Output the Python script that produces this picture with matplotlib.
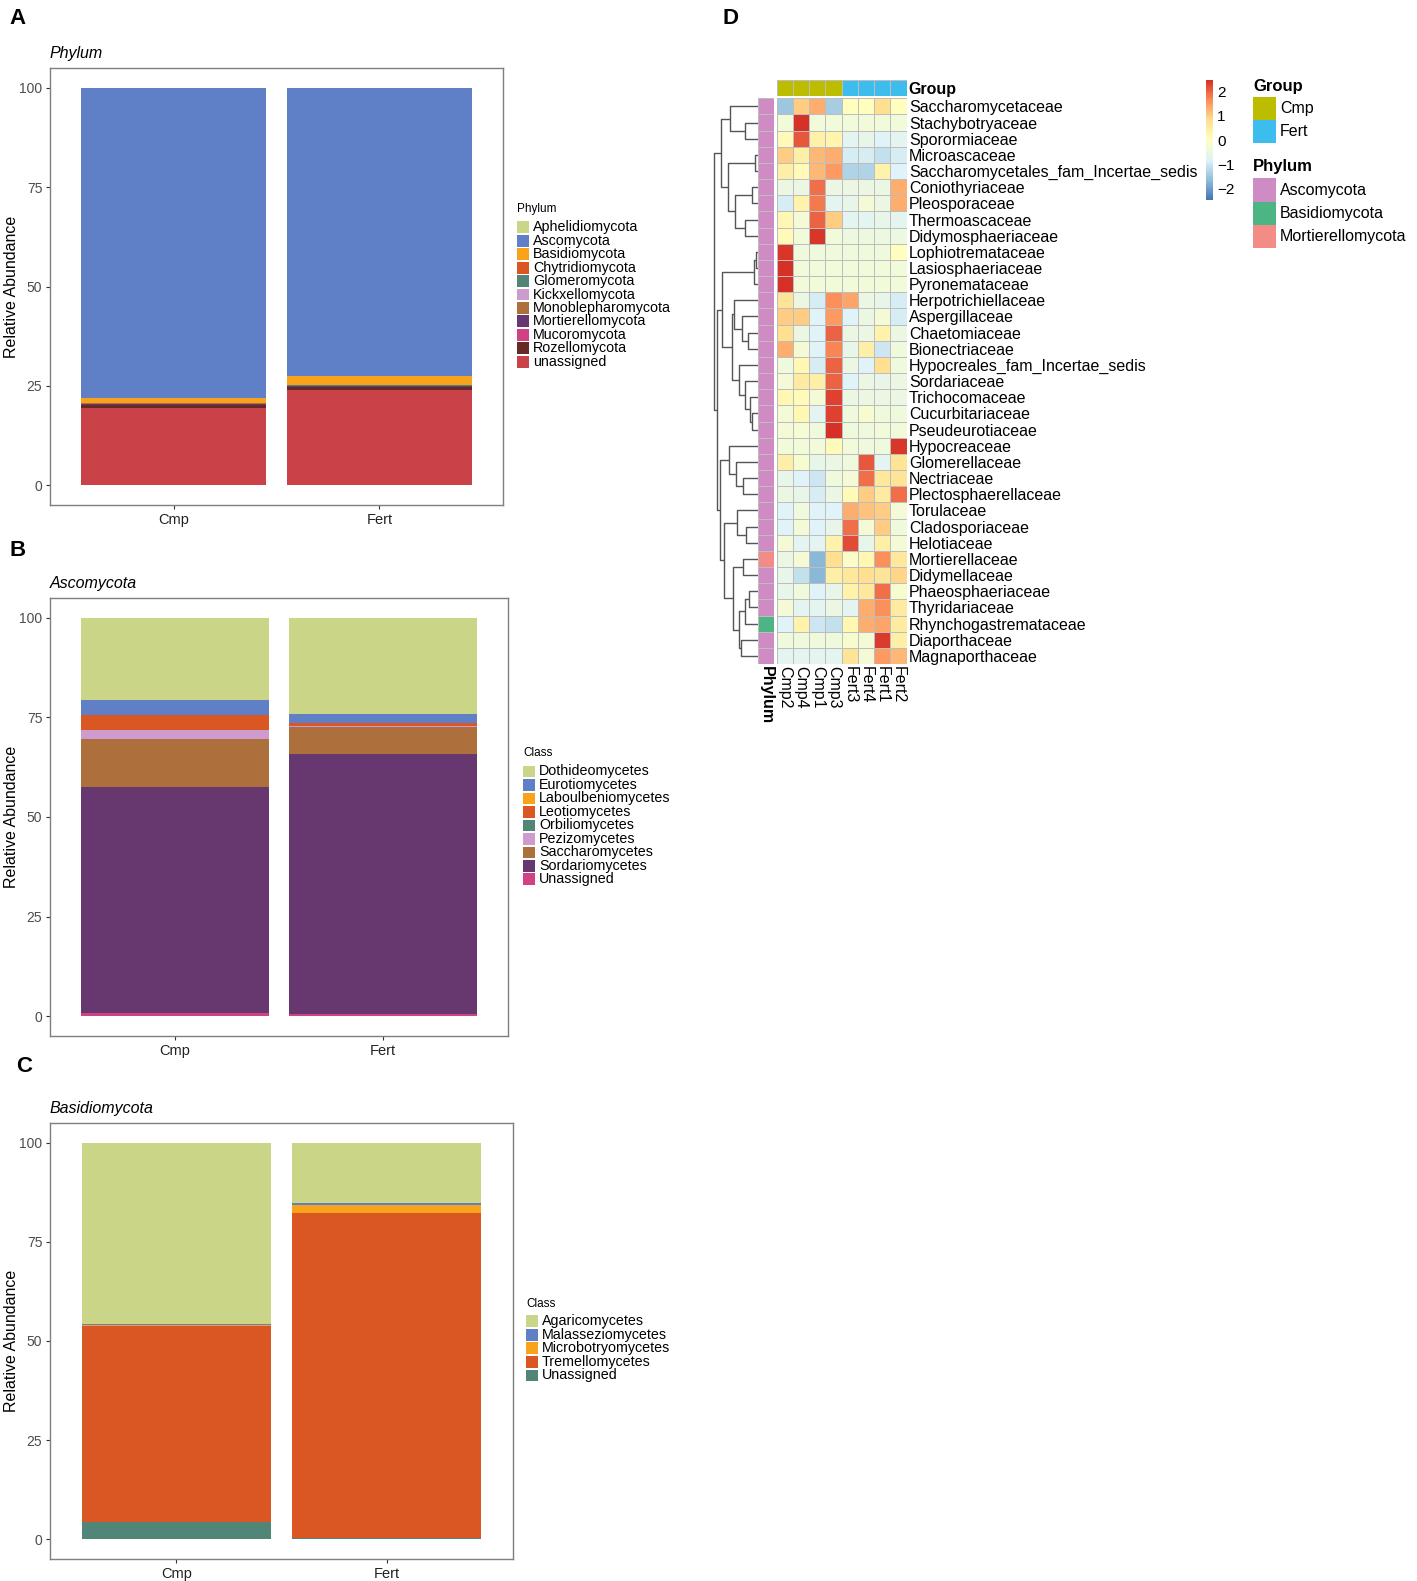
import numpy as np
import matplotlib
matplotlib.use("Agg")
import matplotlib.pyplot as plt
from matplotlib.colors import LinearSegmentedColormap, ListedColormap

plt.rcParams['font.family'] = ['Liberation Sans', 'DejaVu Sans']

W, H = 1417, 1581

# ---- data: stacked bars ----
samples = ['Cmp', 'Fert']

phylum_names = ['Aphelidiomycota', 'Ascomycota', 'Basidiomycota', 'Chytridiomycota',
                'Glomeromycota', 'Kickxellomycota', 'Monoblepharomycota',
                'Mortierellomycota', 'Mucoromycota', 'Rozellomycota', 'unassigned']
phylum_cmp = [0.02, 78.0, 1.3, 0.05, 0.05, 0.02, 0.02, 0.4, 0.05, 0.7, 19.39]
phylum_fert = [0.02, 72.6, 2.2, 0.05, 0.05, 0.02, 0.02, 0.4, 0.05, 0.6, 23.99]

asco_names = ['Dothideomycetes', 'Eurotiomycetes', 'Laboulbeniomycetes', 'Leotiomycetes',
              'Orbiliomycetes', 'Pezizomycetes', 'Saccharomycetes', 'Sordariomycetes',
              'Unassigned']
asco_cmp = [20.6, 3.8, 0.1, 3.7, 0.05, 2.1, 12.1, 56.65, 0.9]
asco_fert = [24.1, 2.3, 0.05, 0.6, 0.05, 0.4, 6.6, 65.3, 0.6]

basi_names = ['Agaricomycetes', 'Malasseziomycetes', 'Microbotryomycetes',
              'Tremellomycetes', 'Unassigned']
basi_cmp = [45.8, 0.1, 0.3, 49.4, 4.4]
basi_fert = [15.3, 0.3, 2.2, 81.9, 0.3]

palette = ['#CBD588', '#5F7FC7', '#F8A31B', '#DA5724', '#508578', '#CD9BCD',
           '#AD6F3B', '#673770', '#D14285', '#652926', '#C84248']

# ---- data: heatmap (row z-scores) ----
heat_cols = ['Cmp2', 'Cmp4', 'Cmp1', 'Cmp3', 'Fert3', 'Fert4', 'Fert1', 'Fert2']
heat_rows = ['Saccharomycetaceae', 'Stachybotryaceae', 'Sporormiaceae', 'Microascaceae',
             'Saccharomycetales_fam_Incertae_sedis', 'Coniothyriaceae', 'Pleosporaceae',
             'Thermoascaceae', 'Didymosphaeriaceae', 'Lophiotremataceae', 'Lasiosphaeriaceae',
             'Pyronemataceae', 'Herpotrichiellaceae', 'Aspergillaceae', 'Chaetomiaceae',
             'Bionectriaceae', 'Hypocreales_fam_Incertae_sedis', 'Sordariaceae',
             'Trichocomaceae', 'Cucurbitariaceae', 'Pseudeurotiaceae', 'Hypocreaceae',
             'Glomerellaceae', 'Nectriaceae', 'Plectosphaerellaceae', 'Torulaceae',
             'Cladosporiaceae', 'Helotiaceae', 'Mortierellaceae', 'Didymellaceae',
             'Phaeosphaeriaceae', 'Thyridariaceae', 'Rhynchogastremataceae',
             'Diaporthaceae', 'Magnaporthaceae']
heat_vals = [
    [-1.5, 1.0, 1.3, -1.4, 0.0, 0.0, 0.8, 0.0],
    [-0.35, 2.45, -0.35, -0.35, -0.35, -0.35, -0.35, -0.35],
    [0.1, 2.1, 0.35, 0.25, -0.7, -0.6, -0.8, -0.7],
    [1.0, 0.4, 1.2, 1.3, -0.9, -0.9, -1.1, -0.9],
    [0.4, 0.1, 1.2, 1.5, -1.3, -1.3, 0.3, -0.8],
    [-0.5, -0.5, 1.9, -0.5, -0.5, -0.5, -0.5, 1.3],
    [-0.9, 0.3, 1.8, -0.7, -0.6, -0.3, -0.5, 1.3],
    [0.2, -0.3, 2.0, 1.0, -0.7, -0.7, -0.6, -0.7],
    [0.1, -0.35, 2.4, -0.35, -0.45, -0.45, -0.45, -0.45],
    [2.4, -0.4, -0.4, -0.4, -0.4, -0.4, -0.4, 0.0],
    [2.45, -0.35, -0.35, -0.35, -0.35, -0.35, -0.35, -0.35],
    [2.45, -0.35, -0.35, -0.35, -0.35, -0.35, -0.35, -0.35],
    [0.7, -0.5, -0.9, 1.6, 1.4, -0.5, -0.6, -0.9],
    [1.0, 1.0, -0.8, 1.5, -0.8, -0.5, -0.3, -0.9],
    [0.8, -0.5, -0.8, 2.0, -0.5, -0.5, 0.3, -0.5],
    [1.3, -0.3, -0.8, 1.7, -0.6, 0.4, -1.0, -0.4],
    [-0.4, 0.2, -0.9, 2.0, -0.5, -0.8, 0.8, -0.4],
    [-0.3, 0.5, 0.4, 2.0, -0.8, -0.5, -0.6, -0.5],
    [0.2, 0.1, -0.3, 2.3, -0.5, -0.5, -0.5, -0.5],
    [-0.3, 0.2, -0.7, 2.3, -0.4, -0.2, -0.4, -0.4],
    [-0.3, -0.25, -0.4, 2.45, -0.4, -0.4, -0.35, -0.35],
    [-0.35, -0.35, -0.35, 0.1, -0.35, -0.4, -0.4, 2.4],
    [0.4, -0.2, -0.6, -0.5, -0.4, 2.1, -0.7, 0.7],
    [-0.6, -0.8, -1.0, -0.4, -0.3, 1.9, 0.6, 0.7],
    [-0.5, -0.6, -0.9, -0.5, 0.1, 1.0, 0.5, 1.9],
    [-0.8, -0.4, -0.8, -0.8, 1.3, 1.1, 1.0, -0.3],
    [-0.8, -0.3, -0.8, -0.6, 1.9, -0.3, 1.0, -0.4],
    [-0.3, -0.7, -0.7, 0.3, 2.2, -0.6, 0.4, -0.3],
    [-0.5, -0.3, -1.7, 0.8, -0.1, 0.2, 1.6, 0.6],
    [-0.6, -1.1, -1.7, 0.4, 0.6, 0.8, 0.7, 0.9],
    [-0.6, -0.4, -0.8, -0.6, 0.3, 0.6, 1.9, -0.2],
    [-0.3, -0.7, -0.7, -0.5, -0.7, 1.3, 1.6, 0.5],
    [-0.8, 0.3, -1.0, -1.1, 0.2, 1.3, 1.4, 0.5],
    [-0.4, -0.4, -0.4, -0.4, -0.2, -0.3, 2.35, 0.4],
    [-0.7, -0.7, -0.7, -0.7, 0.7, -0.3, 1.5, 1.2],
]
row_phylum = ['Ascomycota'] * 35
row_phylum[28] = 'Mortierellomycota'
row_phylum[32] = 'Basidiomycota'

group_names = ['Cmp', 'Fert']
group_colors = ['#BDBD00', '#3DBDEE']
phyl_names = ['Ascomycota', 'Basidiomycota', 'Mortierellomycota']
phyl_colors = ['#CF8CC4', '#4DB584', '#F28C84']

# row dendrogram: (left, right, merge height), leaves are row indices
clus_a = ((0, (1, 2, 13.3), 27.7), ((3, 4, 3.3), ((5, 6, 5.7), (7, 8, 13.3), 22.3), 30.0), 36.7)
clus_b = ((9, 10, 2.3), 11, 4.0)
clus_c = ((12, (13, (14, 15, 10.0), 15.7), 24.0),
          (16, (17, (18, (19, 20, 5.7), 7.7), 13.3), 19.0), 25.7)
clus_d1 = (21, (22, (23, 24, 15.0), 21.7), 29.0)
clus_d2 = ((25, (26, 27, 11.7), 21.0),
           ((28, 29, 15.0), (((30, 31, 9.0), 32, 13.3), (33, 34, 16.7), 19.0), 25.0), 33.3)
row_tree = (clus_a, ((clus_b, clus_c, 36.0), (clus_d1, clus_d2, 37.7), 41.0), 43.3)


def rect(x0, y0, x1, y1):
    return [x0 / W, 1 - y1 / H, (x1 - x0) / W, (y1 - y0) / H]


fig = plt.figure(figsize=(W / 100, H / 100), dpi=100)


def key_legend(x0, y_first, step, labels, colors, title, title_y, fs, title_fs,
               key_w=12, key_frac=0.88, bold=False, text_pad=4):
    n = len(labels)
    lax = fig.add_axes(rect(x0, y_first - step / 2, x0 + key_w, y_first + step * (n - 0.5)))
    lax.set_xlim(0, 1)
    lax.set_ylim(n - 0.5, -0.5)
    lax.barh(np.arange(n), 1, height=key_frac, color=colors)
    lax.axis('off')
    for i, lab in enumerate(labels):
        lax.text(1 + text_pad / key_w, i, lab, fontsize=fs, va='center', ha='left',
                 clip_on=False)
    fig.text(x0 / W, 1 - title_y / H, title, fontsize=title_fs, va='center', ha='left',
             fontweight='bold' if bold else 'normal')


def bar_panel(box, title, names, cmp_vals, fert_vals, leg_x, leg_title_y, leg_first, leg_step,
              leg_title, letter, letter_xy):
    ax = fig.add_axes(rect(*box))
    bottom = np.zeros(2)
    for k in range(len(names) - 1, -1, -1):
        vals = np.array([cmp_vals[k], fert_vals[k]])
        ax.bar([1, 2], vals, bottom=bottom, width=0.9, color=palette[k], linewidth=0)
        bottom += vals
    ax.set_xlim(0.4, 2.6)
    ax.set_ylim(-5, 105)
    ax.set_yticks([0, 25, 50, 75, 100])
    ax.set_xticks([1, 2])
    ax.set_xticklabels(samples, fontsize=10.5, color='#222222')
    ax.tick_params(axis='y', labelsize=10, labelcolor='#4d4d4d', length=3, color='#333333',
                   pad=2.5)
    ax.tick_params(axis='x', length=3, color='#333333', pad=3)
    for s in ax.spines.values():
        s.set_color('#7f7f7f')
        s.set_linewidth(1.0)
    ax.set_ylabel('Relative Abundance', fontsize=11.5)
    ax.yaxis.set_label_coords((19 - box[0]) / (box[2] - box[0]), 0.5)
    fig.text(box[0] / W, 1 - (box[1] - 14.5) / H, title, fontsize=11.5, style='italic',
             va='center', ha='left')
    fig.text(letter_xy[0] / W, 1 - letter_xy[1] / H, letter, fontsize=16, fontweight='bold',
             va='center', ha='center')
    key_legend(leg_x, leg_first, leg_step, names, palette[:len(names)], leg_title,
               leg_title_y, fs=10.3, title_fs=8.5)


bar_panel((50, 68, 503, 505), 'Phylum', phylum_names, phylum_cmp, phylum_fert,
          517, 209, 227.3, 13.44, 'Phylum', 'A', (18, 18))
bar_panel((50, 598, 508, 1036), 'Ascomycota', asco_names, asco_cmp, asco_fert,
          523, 753, 771.5, 13.49, 'Class', 'B', (18, 550))
bar_panel((50, 1123, 513, 1559), 'Basidiomycota', basi_names, basi_cmp, basi_fert,
          526, 1304, 1321.1, 13.6, 'Class', 'C', (24, 1067))

# ---- panel D: heatmap ----
fig.text(730 / W, 1 - 18 / H, 'D', fontsize=16, fontweight='bold', va='center', ha='center')

grid_x0, grid_x1, grid_y0, grid_y1 = 776.7, 906.7, 98.3, 664.0
heat_cmap = LinearSegmentedColormap.from_list(
    'rdylbu', ['#4575B4', '#91BFDB', '#E0F3F8', '#FFFFBF', '#FEE090', '#FC8D59', '#D73027'], N=100)
edge = '#bdbdbd'

hax = fig.add_axes(rect(grid_x0, grid_y0, grid_x1, grid_y1))
mesh = hax.pcolormesh(np.array(heat_vals), cmap=heat_cmap, vmin=-2.45, vmax=2.45,
                      edgecolors=edge, linewidth=0.6)
hax.set_xlim(0, len(heat_cols))
hax.set_ylim(len(heat_rows), 0)
hax.set_yticks(np.arange(len(heat_rows)) + 0.5)
hax.set_yticklabels(heat_rows, fontsize=11.5)
hax.yaxis.tick_right()
hax.set_xticks(np.arange(len(heat_cols)) + 0.5)
hax.set_xticklabels(heat_cols, fontsize=11.5, rotation=270, ha='center', va='top')
hax.tick_params(length=0, pad=1.5)
for s in hax.spines.values():
    s.set_visible(False)

# group annotation
groups = [c.rstrip('0123456789') for c in heat_cols]
gax = fig.add_axes(rect(grid_x0, 80, grid_x1, 96))
gax.pcolormesh(np.array([[group_names.index(g) for g in groups]]),
               cmap=ListedColormap(group_colors), vmin=-0.5, vmax=1.5,
               edgecolors=edge, linewidth=0.6)
gax.set_xlim(0, len(heat_cols))
gax.set_xticks([])
gax.set_yticks([0.5])
gax.set_yticklabels(['Group'], fontsize=11.5, fontweight='bold')
gax.yaxis.tick_right()
gax.tick_params(length=0, pad=1.5)
for s in gax.spines.values():
    s.set_visible(False)

# phylum annotation
pax = fig.add_axes(rect(758.3, grid_y0, 774.0, grid_y1))
pax.pcolormesh(np.array([[phyl_names.index(p)] for p in row_phylum]),
               cmap=ListedColormap(phyl_colors), vmin=-0.5, vmax=2.5,
               edgecolors=edge, linewidth=0.6)
pax.set_ylim(len(heat_rows), 0)
pax.set_yticks([])
pax.set_xticks([0.5])
pax.set_xticklabels(['Phylum'], fontsize=11.5, fontweight='bold', rotation=270,
                    ha='center', va='top')
pax.tick_params(length=0, pad=1.5)
for s in pax.spines.values():
    s.set_visible(False)

# dendrogram
dax = fig.add_axes(rect(713, grid_y0, 758, grid_y1))


def draw_tree(node):
    if isinstance(node, int):
        return node + 0.5, 0.0
    left, right, h = node
    yl, hl = draw_tree(left)
    yr, hr = draw_tree(right)
    dax.plot([hl, h, h, hr], [yl, yl, yr, yr], color='#555555', lw=1.0,
             solid_capstyle='butt')
    return (yl + yr) / 2, h


draw_tree(row_tree)
dax.set_xlim(44.5, 0)
dax.set_ylim(len(heat_rows), 0)
dax.axis('off')

# colour bar
cax = fig.add_axes(rect(1206, 80, 1213, 200))
cb = fig.colorbar(mesh, cax=cax, ticks=[-2, -1, 0, 1, 2])
cb.outline.set_visible(False)
cax.tick_params(length=0, labelsize=11, pad=3)

# annotation legends
key_legend(1253, 108.3, 23.0, group_names, group_colors, 'Group', 86, fs=11.5,
           title_fs=12, key_w=23, key_frac=1.0, bold=True)
key_legend(1253, 190.0, 23.3, phyl_names, phyl_colors, 'Phylum', 166, fs=11.5,
           title_fs=12, key_w=23, key_frac=1.0, bold=True)

fig.savefig('out.png', dpi=100)
